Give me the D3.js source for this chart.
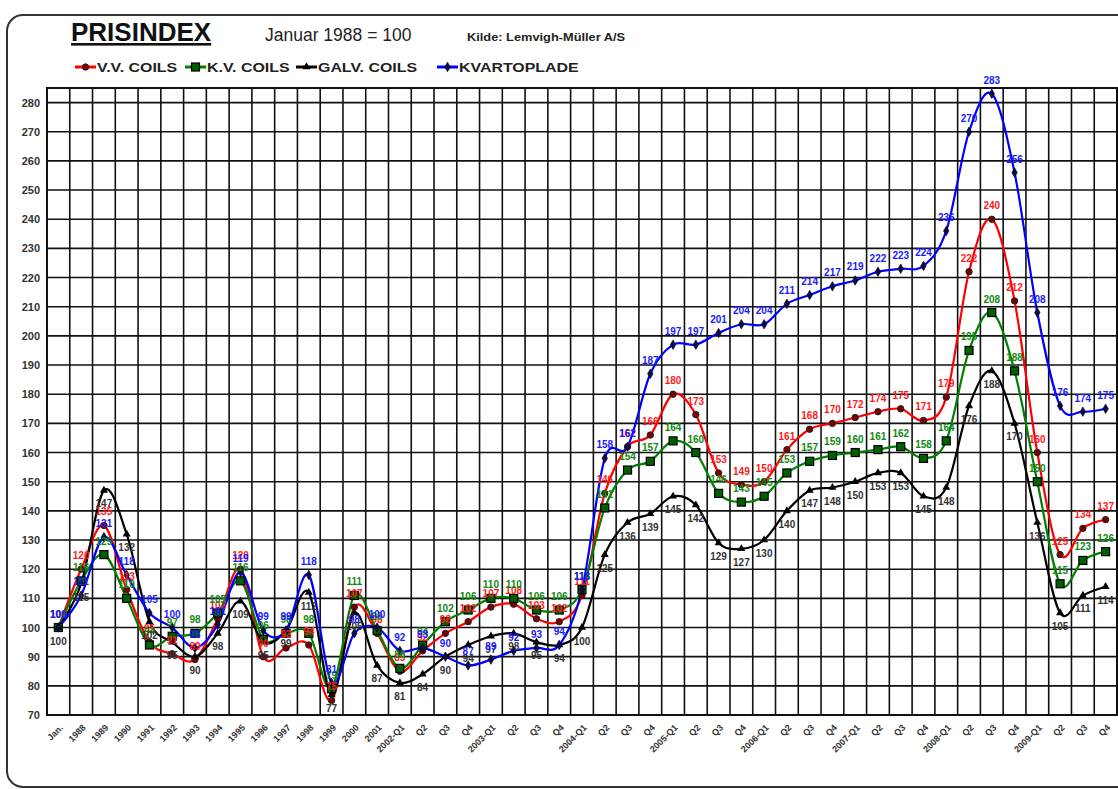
<!DOCTYPE html>
<html>
<head>
<meta charset="utf-8">
<script src="https://cdn.jsdelivr.net/npm/d3@7"></script>
<style>
  body { margin: 0; background: #fff; }
  svg { font-family: "Liberation Sans", Arial, sans-serif; }
</style>
</head>
<body>
<div id="chart"></div>
<script>
// categories along the x axis
const categories = [
  "Jan.", "1988", "1989", "1990", "1991", "1992", "1993", "1994", "1995",
  "1996", "1997", "1998", "1999", "2000", "2001",
  "2002-Q1", "Q2", "Q3", "Q4", "2003-Q1", "Q2", "Q3", "Q4",
  "2004-Q1", "Q2", "Q3", "Q4", "2005-Q1", "Q2", "Q3", "Q4",
  "2006-Q1", "Q2", "Q3", "Q4", "2007-Q1", "Q2", "Q3", "Q4",
  "2008-Q1", "Q2", "Q3", "Q4", "2009-Q1", "Q2", "Q3", "Q4"
];

const vvCoils = [
  100, 120, 135, 113, 95, 91, 89, 103, 120, 90, 93, 94, 75, 107, 98,
  85, 92, 98, 102, 107, 108, 103, 102, 111, 146, 162, 166,
  180, 173, 153, 149, 150, 161, 168, 170, 172, 174, 175, 171,
  179, 222, 240, 212, 160, 125, 134, 137
];
const kvCoils = [
  100, 116, 125, 110, 94, 97, 98, 105, 116, 96, 98, 98, 79, 111, 99,
  86, 94, 102, 106, 110, 110, 106, 106, 113, 141, 154, 157,
  164, 160, 146, 143, 145, 153, 157, 159, 160, 161, 162, 158,
  164, 195, 208, 188, 150, 115, 123, 126
];
const galvCoils = [
  100, 115, 147, 132, 102, 95, 90, 98, 109, 95, 99, 112, 77, 105, 87,
  81, 84, 90, 94, 97, 98, 95, 94, 100, 125, 136, 139,
  145, 142, 129, 127, 130, 140, 147, 148, 150, 153, 153, 145,
  148, 176, 188, 170, 136, 105, 111, 114
];
const kvartoplade = [
  100, 111, 131, 118, 105, 100, 93, 101, 119, 99, 99, 118, 81, 98, 100,
  92, 93, 90, 87, 89, 92, 93, 94, 113, 158, 162, 187,
  197, 197, 201, 204, 204, 211, 214, 217, 219, 222, 223, 224,
  236, 270, 283, 256, 208, 176, 174, 175
];

const seriesNames = ["V.V. COILS", "K.V. COILS", "GALV. COILS", "KVARTOPLADE"];
const yTicks = [70, 80, 90, 100, 110, 120, 130, 140, 150, 160, 170, 180,
  190, 200, 210, 220, 230, 240, 250, 260, 270, 280];

const W = 1118, H = 789;
const margin = { top: 88, right: 1, bottom: 74, left: 47 };
const width = W - margin.left - margin.right;
const height = H - margin.top - margin.bottom;

const svg = d3.select("#chart").append("svg")
  .attr("width", W).attr("height", H);

// outer rounded frame
svg.append("rect")
  .attr("x", 7).attr("y", 15)
  .attr("width", 1140).attr("height", 772)
  .attr("rx", 16)
  .attr("fill", "none").attr("stroke", "#333").attr("stroke-width", 2);

// header
svg.append("text")
  .attr("x", 71).attr("y", 41)
  .style("font-size", "26px").style("font-weight", "bold")
  .style("text-decoration", "underline")
  .attr("fill", "#111")
  .text("PRISINDEX");
svg.append("text")
  .attr("x", 265).attr("y", 41)
  .style("font-size", "17.5px")
  .attr("fill", "#222")
  .text("Januar 1988 = 100");
svg.append("text")
  .attr("transform", "translate(467,41) scale(1.22,1)")
  .style("font-size", "10.5px").style("font-weight", "bold")
  .attr("fill", "#222")
  .text("Kilde: Lemvigh-Müller A/S");

const g = svg.append("g")
  .attr("transform", "translate(" + margin.left + "," + margin.top + ")");

const x = d3.scaleBand()
  .domain(categories.map((d, i) => i))
  .range([0, width])
  .padding(0);

const y = d3.scaleLinear()
  .domain([70, 285])
  .range([height, 0]);

const cx = (i) => x(i) + x.bandwidth() / 2;

// horizontal grid
g.append("g")
  .selectAll("line")
  .data(yTicks)
  .enter().append("line")
  .attr("x1", 0).attr("x2", width)
  .attr("y1", (d) => y(d)).attr("y2", (d) => y(d))
  .attr("stroke", "#111").attr("stroke-width", 1.6);

// vertical grid at band edges
g.append("g")
  .selectAll("line")
  .data(x.domain())
  .enter().append("line")
  .attr("x1", (d) => x(d)).attr("x2", (d) => x(d))
  .attr("y1", 0).attr("y2", height)
  .attr("stroke", "#111").attr("stroke-width", 1.6);

g.append("rect")
  .attr("width", width).attr("height", height)
  .attr("fill", "none").attr("stroke", "#111").attr("stroke-width", 2);

// y axis labels
const yAxis = g.append("g")
  .call(d3.axisLeft(y).tickValues(yTicks).tickSize(0).tickPadding(7));
yAxis.select(".domain").remove();
yAxis.selectAll("text")
  .style("font-family", "Liberation Sans, Arial, sans-serif")
  .style("font-size", "11px").style("font-weight", "bold")
  .attr("fill", "#333");

// x axis labels
const xAxis = g.append("g")
  .attr("transform", "translate(0," + height + ")")
  .call(d3.axisBottom(x).tickSize(0).tickFormat((i) => categories[i]));
xAxis.select(".domain").remove();
xAxis.selectAll("text")
  .attr("x", 0).attr("y", 0).attr("dy", "0.35em")
  .attr("transform", "translate(3,11) rotate(-45)")
  .style("text-anchor", "end")
  .style("font-family", "Liberation Sans, Arial, sans-serif")
  .style("font-size", "9px").style("font-weight", "bold")
  .attr("fill", "#333");

const series = [
  { name: seriesNames[0], values: vvCoils, color: "#ff0000", label: "#ff1a1a", marker: "circle", above: true },
  { name: seriesNames[1], values: kvCoils, color: "#008000", label: "#118811", marker: "square", above: true },
  { name: seriesNames[2], values: galvCoils, color: "#000000", label: "#333333", marker: "triangle", above: false },
  { name: seriesNames[3], values: kvartoplade, color: "#0000ff", label: "#1a1aff", marker: "diamond", above: true }
];

const line = d3.line()
  .x((d, i) => cx(i))
  .y((d) => y(d))
  .curve(d3.curveCardinal.tension(0));

function drawMarker(sel, type) {
  if (type === "circle") {
    sel.append("circle").attr("r", 3.2)
      .attr("fill", "#7a0000").attr("stroke", "#222").attr("stroke-width", 1);
  } else if (type === "square") {
    sel.append("rect").attr("x", -4).attr("y", -4).attr("width", 8).attr("height", 8)
      .attr("fill", "#006000").attr("stroke", "#000").attr("stroke-width", 1.2);
  } else if (type === "triangle") {
    sel.append("path").attr("d", d3.symbol(d3.symbolTriangle, 28)())
      .attr("fill", "#000");
  } else {
    sel.append("path").attr("d", d3.symbol(d3.symbolDiamond, 26)())
      .attr("fill", "#0a0a50").attr("stroke", "#000").attr("stroke-width", 0.6);
  }
}

series.forEach((s) => {
  g.append("path")
    .datum(s.values)
    .attr("d", line)
    .attr("fill", "none")
    .attr("stroke", s.color)
    .attr("stroke-width", 2.2);
});

series.forEach((s) => {
  g.append("g").selectAll("g")
    .data(s.values)
    .enter().append("g")
    .attr("transform", (d, i) => "translate(" + cx(i) + "," + y(d) + ")")
    .each(function () { drawMarker(d3.select(this), s.marker); });
});

series.forEach((s) => {
  g.append("g").selectAll("text")
    .data(s.values)
    .enter().append("text")
    .attr("x", (d, i) => cx(i))
    .attr("y", (d) => y(d) + (s.above ? -10 : 17))
    .attr("text-anchor", "middle")
    .style("font-size", "10px").style("font-weight", "bold")
    .attr("fill", s.label)
    .text((d) => d);
});

// legend
const legend = svg.append("g").attr("transform", "translate(75,67)");
const legendX = [0, 110, 221, 362];
series.forEach((s, i) => {
  const item = legend.append("g").attr("transform", "translate(" + legendX[i] + ",0)");
  item.append("line").attr("x1", 0).attr("x2", 21).attr("y1", 0).attr("y2", 0)
    .attr("stroke", s.color).attr("stroke-width", 3);
  const m = item.append("g").attr("transform", "translate(10.5,0)");
  drawMarker(m, s.marker);
  item.append("text")
    .attr("transform", "translate(22,5) scale(1.18,1)")
    .style("font-size", "13.5px").style("font-weight", "bold")
    .attr("fill", "#222")
    .text(s.name);
});
</script>
</body>
</html>
